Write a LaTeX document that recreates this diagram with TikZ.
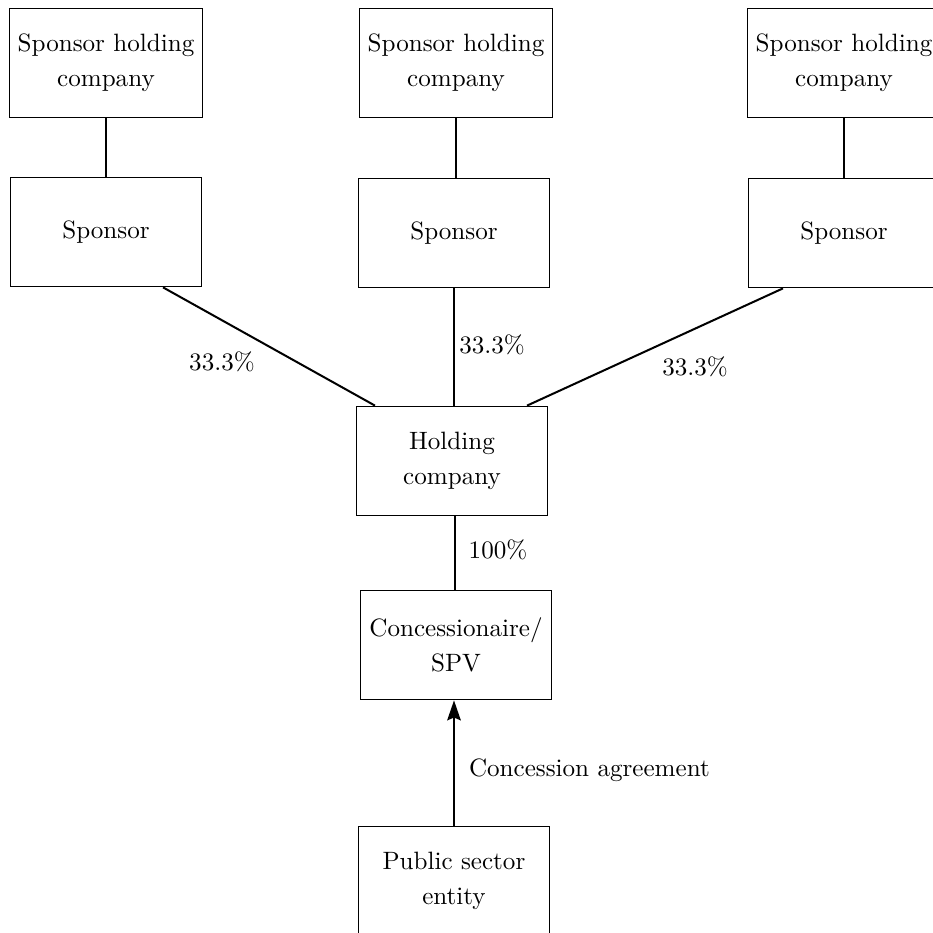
\documentclass[tikz,border=0pt]{standalone}
\usepackage{tikz}
\usetikzlibrary{arrows.meta,positioning,calc}

\begin{document}
\begin{tikzpicture}[x=0.014cm,y=-0.014cm,
  entity/.style={rectangle,draw,semithick,minimum width=2.67cm,
    minimum height=1.53cm,align=center,font=\fontsize{10}{14}\selectfont},
  link/.style={thick},
  pct/.style={font=\fontsize{10}{12}\selectfont,inner sep=1pt}
]
\useasboundingbox (0,0) rectangle (933,933);
% Sponsors and their holding companies
\node[entity] (shcA) at (106,63)  {Sponsor holding\\company};
\node[entity] (shcB) at (456,63)  {Sponsor holding\\company};
\node[entity] (shcC) at (844,63)  {Sponsor holding\\company};
\node[entity] (spA)  at (106,232) {Sponsor};
\node[entity] (spB)  at (454,233) {Sponsor};
\node[entity] (spC)  at (844,233) {Sponsor};

\draw[link] (shcA.south) -- (shcA.south |- spA.north);
\draw[link] (shcB.south) -- (shcB.south |- spB.north);
\draw[link] (shcC.south) -- (shcC.south |- spC.north);

% Project vehicle chain
\node[entity] (hold) at (452,461) {Holding\\company};
\node[entity] (conc) at (456,645) {Concessionaire/\\SPV};
\node[entity] (pub)  at (454,881) {Public sector\\entity};

\draw[link] ($(spA.south)+(57,0)$) -- ($(hold.north)+(-77,0)$);
\draw[link] (spB.south) -- (spB.south |- hold.north);
\draw[link] ($(spC.south)+(-61,0)$) -- ($(hold.north)+(75,0)$);
\draw[link] (hold.south -| 455,0) -- (455,0 |- conc.north);
\draw[link,-{Stealth[length=2.8mm,width=1.9mm,inset=0.4mm]}] (pub.north) -- (pub.north |- conc.south);

% Shareholdings
\node[pct] (pA) at (222,362) {33.3\%};
\node[pct] (pB) at (492,345) {33.3\%};
\node[pct] (pC) at (695,367) {33.3\%};
\node[pct] (pH) at (498,550) {100\%};
\node[pct,anchor=west] (ca) at (466,770) {Concession agreement};
\end{tikzpicture}
\end{document}
